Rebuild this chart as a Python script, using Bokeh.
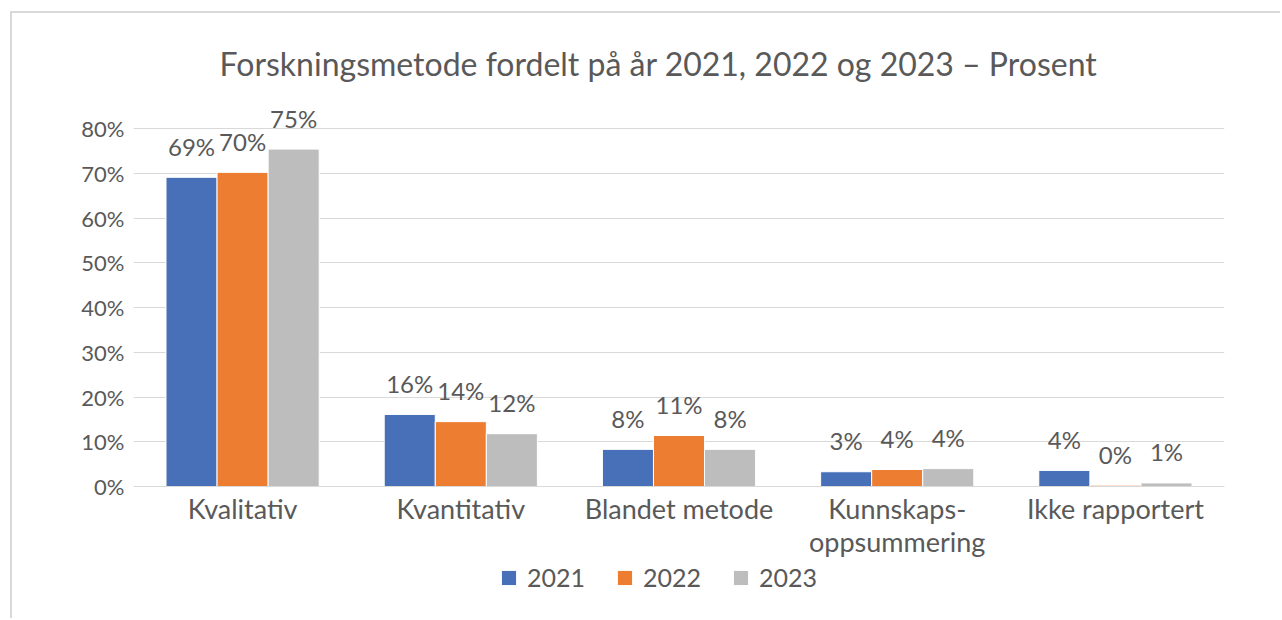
from bokeh.plotting import figure
from bokeh.models import (FactorRange, Range1d, ColumnDataSource, Legend, LegendItem,
                          FixedTicker, Label)
from bokeh.transform import dodge
from bokeh.core.properties import value
from bokeh.embed import file_html
from bokeh.resources import INLINE

categories = ["Kvalitativ", "Kvantitativ", "Blandet metode", "Kunnskaps-\noppsummering", "Ikke rapportert"]
years = ["2021", "2022", "2023"]
v2021 = [69.1, 16.1, 8.3, 3.3, 3.6]
v2022 = [70.2, 14.5, 11.4, 3.8, 0.3]
v2023 = [75.4, 11.8, 8.3, 4.0, 0.8]
y_ticks = [0, 10, 20, 30, 40, 50, 60, 70, 80]
title_text = "Forskningsmetode fordelt på år 2021, 2022 og 2023 – Prosent"

colors = ["#4870B9", "#ED7D31", "#BCBDBC"]
series = [v2021, v2022, v2023]
FONT = "Lato"
TXT = "#595959"
GRID = "#D9D9D9"

data = {"cat": categories}
for y, s in zip(years, series):
    data[y] = s
    data["lab" + y] = [f"{round(v)}%" for v in s]
source = ColumnDataSource(data)

# frame spans the whole canvas height; 0 sits at the chart baseline
p = figure(x_range=FactorRange(*categories, range_padding=0), y_range=Range1d(-29.94, 105.7),
           width=1270, height=607, output_backend="svg", toolbar_location=None,
           min_border_left=121, min_border_right=58, min_border_top=0, min_border_bottom=0)
p.margin = (11, 0, 0, 10)
p.styles = {"border-left": "2px solid #D9D9D9", "border-top": "2px solid #D9D9D9"}

bw = 0.234
offsets = [-bw, 0, bw]
items = []
for y, c, off in zip(years, colors, offsets):
    r = p.vbar(x=dodge("cat", off, range=p.x_range), top=y, width=bw, source=source,
               fill_color=c, line_color="white", line_width=1)
    p.text(x=dodge("cat", off, range=p.x_range), y=y, text="lab" + y, source=source,
           text_align="center", text_baseline="middle", y_offset=-31,
           text_font=value(FONT), text_font_size="24px", text_color=TXT)
    items.append(LegendItem(label=y, renderers=[r]))

p.add_layout(Label(x=525, y=557, x_units="screen", y_units="screen", text=title_text,
                   text_align="center", text_baseline="middle", text_font=FONT,
                   text_font_size="32px", text_color=TXT))

p.yaxis.ticker = FixedTicker(ticks=y_ticks)
p.yaxis.major_label_overrides = {tk: f"{tk}%" for tk in y_ticks}
p.yaxis.axis_line_color = None
p.yaxis.major_tick_line_color = None
p.yaxis.minor_tick_line_color = None
p.yaxis.major_label_text_font = FONT
p.yaxis.major_label_text_font_size = "22px"
p.yaxis.major_label_text_color = TXT
p.yaxis.major_label_standoff = 3

p.xaxis.fixed_location = 0
p.xaxis.axis_line_color = GRID
p.xaxis.axis_line_width = 1
p.xaxis.major_tick_line_color = None
p.xaxis.minor_tick_line_color = None
p.xaxis.major_label_text_font = FONT
p.xaxis.major_label_text_font_size = "27px"
p.xaxis.major_label_text_color = TXT
p.xaxis.major_label_text_line_height = 1.0
p.xaxis.major_label_standoff = -1

legend = Legend(items=items, orientation="horizontal", location=(366, 28),
                glyph_width=19, glyph_height=19, label_standoff=9, spacing=30,
                padding=0, margin=0, border_line_alpha=0, background_fill_alpha=0,
                label_text_font=FONT, label_text_font_size="25px", label_text_color=TXT,
                label_height=19)
p.add_layout(legend, "center")

p.xgrid.grid_line_color = None
p.ygrid.grid_line_color = GRID
p.ygrid.grid_line_width = 1
p.outline_line_color = None

open("out.html", "w").write(file_html(p, INLINE))
